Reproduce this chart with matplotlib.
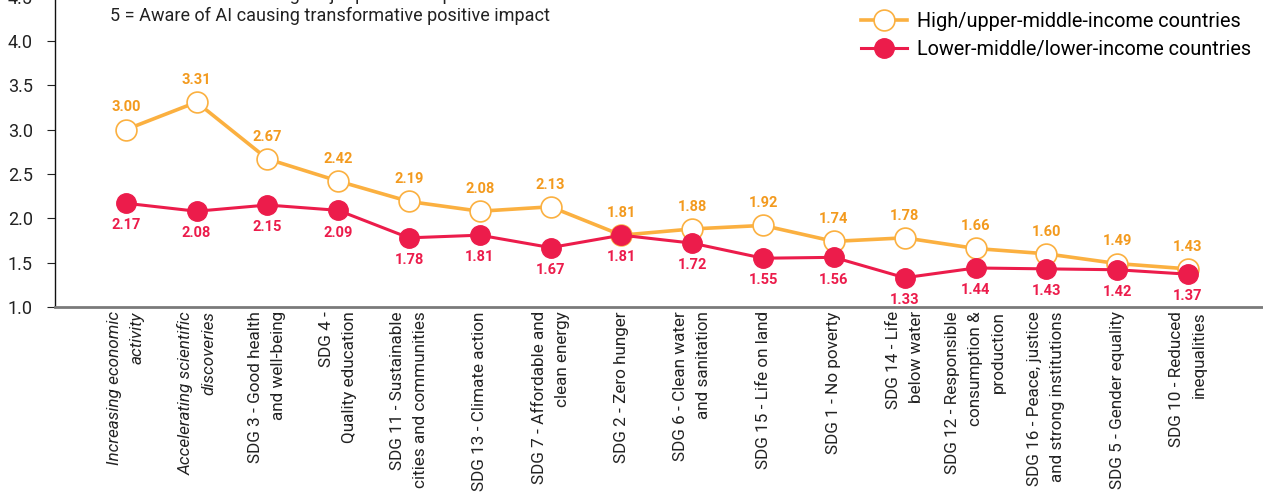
import matplotlib
matplotlib.use("Agg")
import matplotlib.pyplot as plt
from matplotlib.lines import Line2D

plt.rcParams["font.family"] = ["Roboto", "DejaVu Sans"]

CATEGORIES = [
    "Increasing economic\nactivity",
    "Accelerating scientific\ndiscoveries",
    "SDG 3 - Good health\nand well-being",
    "SDG 4 -\nQuality education",
    "SDG 11 - Sustainable\ncities and communities",
    "SDG 13 - Climate action",
    "SDG 7 - Affordable and\nclean energy",
    "SDG 2 - Zero hunger",
    "SDG 6 - Clean water\nand sanitation",
    "SDG 15 - Life on land",
    "SDG 1 - No poverty",
    "SDG 14 - Life\nbelow water",
    "SDG 12 - Responsible\nconsumption &\nproduction",
    "SDG 16 - Peace, justice\nand strong institutions",
    "SDG 5 - Gender equality",
    "SDG 10 - Reduced\ninequalities",
]
ITALIC_LABELS = [0, 1]

HIGH_INCOME = [3.00, 3.31, 2.67, 2.42, 2.19, 2.08, 2.13, 1.81,
               1.88, 1.92, 1.74, 1.78, 1.66, 1.60, 1.49, 1.43]
LOW_INCOME = [2.17, 2.08, 2.15, 2.09, 1.78, 1.81, 1.67, 1.81,
              1.72, 1.55, 1.56, 1.33, 1.44, 1.43, 1.42, 1.37]

SERIES_NAMES = ["High/upper-middle-income countries",
                "Lower-middle/lower-income countries"]
SCALE_NOTES = ["1 = Aware of AI causing major positive impact",
               "5 = Aware of AI causing transformative positive impact"]
Y_TICKS = [1.0, 1.5, 2.0, 2.5, 3.0, 3.5, 4.0, 4.5]

ORANGE = "#FBB040"
ORANGE_TEXT = "#F39A1E"
RED = "#EC1C4B"

fig = plt.figure(figsize=(12.63, 4.95), dpi=100)
ax = fig.add_axes([0.0435, 0.3798, 0.9565, 0.627])

x = list(range(len(CATEGORIES)))
ax.plot(x, HIGH_INCOME, color=ORANGE, lw=2.6, marker="o", ms=15,
        mfc="white", mec=ORANGE, mew=1.2, zorder=3)
ax.plot(x, LOW_INCOME, color=RED, lw=2.2, marker="o", ms=14,
        mfc=RED, mec=RED, zorder=4)

for xi, v in zip(x, HIGH_INCOME):
    ax.annotate(f"{v:.2f}", (xi, v), xytext=(0, 16), textcoords="offset points",
                ha="center", va="center", fontsize=10.5, fontweight="bold",
                color=ORANGE_TEXT)
for xi, v in zip(x, LOW_INCOME):
    ax.annotate(f"{v:.2f}", (xi, v), xytext=(0, -16), textcoords="offset points",
                ha="center", va="center", fontsize=10.5, fontweight="bold",
                color=RED)

ax.set_xlim(-1.0, 16.06)
ax.set_ylim(1.0, 4.5)
ax.set_yticks(Y_TICKS)
ax.set_yticklabels([f"{t:.1f}" for t in Y_TICKS])
ax.tick_params(axis="y", labelsize=13, length=6, width=0.8, pad=10,
               color="#222222", labelcolor="#222222")
ax.set_xticks(x)
ax.set_xticklabels(CATEGORIES, rotation=90, ha="center", va="top",
                   multialignment="right", fontsize=12.3, linespacing=1.65,
                   color="#222222")
for i in ITALIC_LABELS:
    ax.get_xticklabels()[i].set_fontstyle("italic")
ax.tick_params(axis="x", length=0, pad=3)

for side in ("top", "right"):
    ax.spines[side].set_visible(False)
ax.spines["left"].set_color("#111111")
ax.spines["left"].set_linewidth(1.0)
ax.spines["bottom"].set_color("#7a7a7a")
ax.spines["bottom"].set_linewidth(2.0)

# scale explanation, first line runs off the top edge
fig.text(110 / 1263, 1 + 5 / 495, SCALE_NOTES[0], fontsize=13,
         ha="left", va="center", color="#222222")
fig.text(110 / 1263, 1 - 16 / 495, SCALE_NOTES[1], fontsize=13,
         ha="left", va="center", color="#222222")

handles = [
    Line2D([], [], color=ORANGE, lw=2.6, marker="o", ms=15, mfc="white",
           mec=ORANGE, mew=1.2),
    Line2D([], [], color=RED, lw=2.2, marker="o", ms=14, mfc=RED, mec=RED),
]
fig.legend(handles, SERIES_NAMES, loc="upper right",
           bbox_to_anchor=(1.0, 1.0), frameon=False, fontsize=14.3,
           handlelength=2.3, handletextpad=0.5, labelspacing=0.45,
           borderaxespad=0.2)

fig.savefig("out.png", dpi=100)
